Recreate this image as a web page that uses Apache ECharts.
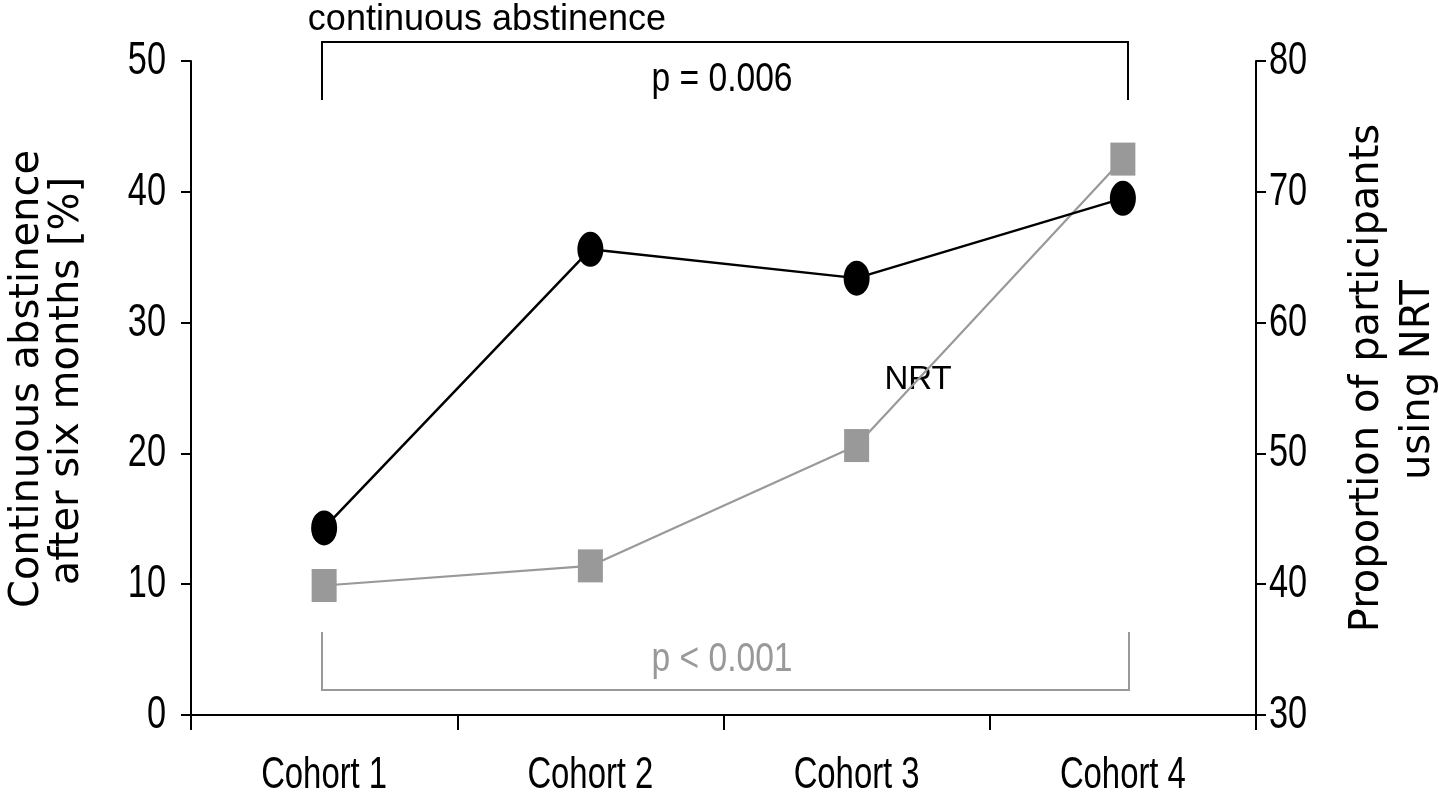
<!DOCTYPE html>
<html lang="en">
<head>
    <meta charset="UTF-8">
    <title>Continuous abstinence and NRT use</title>
    <style>
        html, body { margin: 0; padding: 0; background: #fff; }
    </style>
</head>
<body>
<div id="main" style="width: 1439px;height: 799px"></div>
<script src="https://cdn.jsdelivr.net/npm/echarts@6/dist/echarts.min.js"></script>
<script>
    var categories = ['Cohort 1', 'Cohort 2', 'Cohort 3', 'Cohort 4'];
    // left axis, % abstinent after six months
    var abstinence = [14.3, 35.6, 33.4, 39.5];
    // right axis, % of participants using NRT
    var nrtUse = [39.9, 41.4, 50.6, 72.5];
    var leftTickLabels = [0, 10, 20, 30, 40, 50];
    var rightTickLabels = [30, 40, 50, 60, 70, 80];

    var plain = '"Liberation Sans", Arial, sans-serif';
    var wide = '"DejaVu Sans", sans-serif';
    var grey = '#999999';
    var squeeze = 0.73;   // the original uses a condensed face

    var myChart = echarts.init(document.getElementById('main'));

    var option = {
        animation: false,
        grid: {
            left: 191,
            right: 183,
            top: 61,
            bottom: 84
        },
        xAxis: {
            type: 'category',
            data: categories,
            boundaryGap: true,
            axisLine: {lineStyle: {color: '#000', width: 2}},
            axisTick: {show: true, length: 15, interval: 0, lineStyle: {color: '#000', width: 2}},
            axisLabel: {show: false}
        },
        yAxis: [
            {
                type: 'value',
                min: leftTickLabels[0],
                max: leftTickLabels[leftTickLabels.length - 1],
                interval: 10,
                splitLine: {show: false},
                axisLine: {show: true, lineStyle: {color: '#000', width: 2}},
                axisTick: {show: true, length: 10, lineStyle: {color: '#000', width: 2}},
                axisLabel: {show: false}
            },
            {
                type: 'value',
                position: 'right',
                min: rightTickLabels[0],
                max: rightTickLabels[rightTickLabels.length - 1],
                interval: 10,
                splitLine: {show: false},
                axisLine: {show: true, lineStyle: {color: '#000', width: 2}},
                axisTick: {show: true, length: 10, lineStyle: {color: '#000', width: 2}},
                axisLabel: {show: false}
            }
        ],
        series: [
            {
                name: 'NRT',
                type: 'line',
                yAxisIndex: 1,
                data: nrtUse,
                symbol: 'rect',
                symbolSize: [25, 33],
                lineStyle: {color: grey, width: 2.2},
                itemStyle: {color: grey},
                z: 2
            },
            {
                name: 'Continuous abstinence',
                type: 'line',
                yAxisIndex: 0,
                data: abstinence,
                symbol: 'circle',
                symbolSize: [26, 35],
                lineStyle: {color: '#000', width: 2.5},
                itemStyle: {color: '#000'},
                z: 3
            }
        ]
    };

    myChart.setOption(option);

    function squeezedText(x, y, text, size, align, color, sx) {
        return {
            type: 'text', x: x, y: y, scaleX: sx || squeeze,
            style: {text: text, fontSize: size, fontFamily: plain, fill: color || '#000', align: align, verticalAlign: 'middle'}
        };
    }

    var graphics = [
        // axis titles
        {type: 'text', x: 28, y: 379, rotation: Math.PI / 2,
            style: {text: 'Continuous abstinence', fontSize: 40, fontFamily: wide, fill: '#000', align: 'center', verticalAlign: 'middle'}},
        {type: 'text', x: 68, y: 381, rotation: Math.PI / 2,
            style: {text: 'after six months [%]', fontSize: 40, fontFamily: wide, fill: '#000', align: 'center', verticalAlign: 'middle'}},
        {type: 'text', x: 1368, y: 378, rotation: Math.PI / 2,
            style: {text: 'Proportion of participants', fontSize: 40, fontFamily: wide, fill: '#000', align: 'center', verticalAlign: 'middle'}},
        {type: 'text', x: 1419, y: 380, rotation: Math.PI / 2,
            style: {text: 'using NRT', fontSize: 40, fontFamily: wide, fill: '#000', align: 'center', verticalAlign: 'middle'}},
        // significance brackets
        {type: 'polyline', shape: {points: [[322, 100], [322, 42], [1128, 42], [1128, 100]]},
            style: {stroke: '#000', lineWidth: 2, fill: null}},
        {type: 'polyline', shape: {points: [[322, 632], [322, 690], [1129, 690], [1129, 632]]},
            style: {stroke: grey, lineWidth: 2, fill: null}},
        {type: 'text', x: 487, y: 20,
            style: {text: 'continuous abstinence', fontSize: 36, fontFamily: plain, fill: '#000', align: 'center', verticalAlign: 'middle'}},
        squeezedText(722, 80, 'p = 0.006', 40, 'center', '#000', 0.84),
        squeezedText(722, 660, 'p < 0.001', 40, 'center', grey, 0.84),
        {type: 'text', x: 918, y: 380,
            style: {text: 'NRT', fontSize: 33, fontFamily: plain, fill: '#000', align: 'center', verticalAlign: 'middle'}}
    ];

    // tick labels, placed through the axes
    leftTickLabels.forEach(function (v) {
        var p = myChart.convertToPixel({yAxisIndex: 0}, v);
        graphics.push(squeezedText(166, p, String(v), 47, 'right'));
    });
    rightTickLabels.forEach(function (v) {
        var p = myChart.convertToPixel({yAxisIndex: 1}, v);
        graphics.push(squeezedText(1269, p, String(v), 47, 'left'));
    });
    categories.forEach(function (c) {
        var p = myChart.convertToPixel({xAxisIndex: 0}, c);
        graphics.push(squeezedText(p, 776, c, 45, 'center'));
    });

    myChart.setOption({graphic: graphics});
</script>
</body>
</html>
